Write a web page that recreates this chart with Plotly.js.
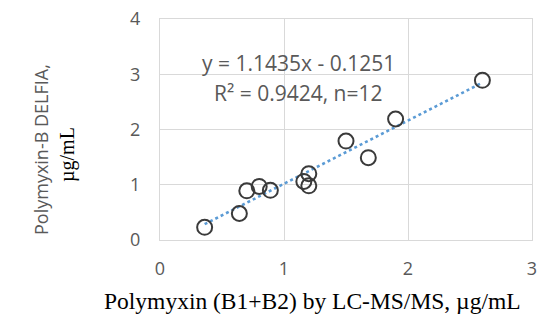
<!DOCTYPE html>
<html>
<head>
<meta charset="utf-8">
<script src="https://cdn.plot.ly/plotly-3.0.1.min.js"></script>
<style>html,body{margin:0;padding:0;background:#fff;}#chart{width:538px;height:320px;}</style>
</head>
<body>
<div id="chart"></div>
<script>
const lcmsValues = [0.36, 0.64, 0.70, 0.80, 0.89, 1.16, 1.20, 1.20, 1.50, 1.68, 1.90, 2.60];
const delfiaValues = [0.23, 0.48, 0.89, 0.97, 0.90, 1.06, 1.20, 0.98, 1.79, 1.49, 2.19, 2.89];
const trendSlope = 1.1435;
const trendIntercept = -0.1251;
const xTicks = [0, 1, 2, 3];
const yTicks = [0, 1, 2, 3, 4];
const eqLine1 = "y = 1.1435x - 0.1251";
const eqLine2 = "R² = 0.9424, n=12";
const xTitle = "Polymyxin (B1+B2) by LC-MS/MS, µg/mL";
const yTitle1 = "Polymyxin-B DELFIA,";
const yTitle2 = "µg/mL";

const xMin = Math.min(...lcmsValues), xMax = Math.max(...lcmsValues);
const trendX = [xMin, xMax];
const trendY = trendX.map(v => trendSlope * v + trendIntercept);

const sans = "Open Sans, Liberation Sans, sans-serif";
const serif = "Liberation Serif, Times New Roman, serif";

// plot area in pixels: left 160, right 532, top 19, bottom 240
const L = 160, R = 532, T = 19, B = 240;
const px = x => (x - L) / (R - L);
const py = y => (B - y) / (B - T);

const data = [
  {x: trendX, y: trendY, mode: 'lines', type: 'scatter',
   line: {color: '#5b9bd5', width: 2.6, dash: 'dot'}, hoverinfo: 'skip'},
  {x: lcmsValues, y: delfiaValues, mode: 'markers', type: 'scatter',
   marker: {symbol: 'circle-open', size: 15, color: '#3a3a3a', line: {color: '#3a3a3a', width: 2}}}
];

const layout = {
  width: 538, height: 320,
  margin: {l: L, r: 538 - R, t: T, b: 320 - B},
  showlegend: false,
  paper_bgcolor: '#fff', plot_bgcolor: '#fff',
  xaxis: {range: [0, 3], tickvals: xTicks, showgrid: true, gridcolor: '#d9d9d9', gridwidth: 1,
          zeroline: false, showline: true, linecolor: '#d9d9d9', mirror: true, linewidth: 1,
          ticks: '', tickfont: {family: sans, size: 18, color: '#595959'}, ticklabelstandoff: 12,
          automargin: false},
  yaxis: {range: [0, 4], tickvals: yTicks, showgrid: true, gridcolor: '#d9d9d9', gridwidth: 1,
          zeroline: false, showline: true, linecolor: '#d9d9d9', mirror: true, linewidth: 1,
          ticks: '', tickfont: {family: sans, size: 18, color: '#595959'}, ticklabelstandoff: 15,
          automargin: false},
  annotations: [
    {xref: 'paper', yref: 'paper', x: px(298), y: py(63), text: eqLine1, showarrow: false,
     font: {family: sans, size: 21, color: '#595959'}, xanchor: 'center', yanchor: 'middle'},
    {xref: 'paper', yref: 'paper', x: px(298), y: py(93), text: eqLine2, showarrow: false,
     font: {family: sans, size: 21, color: '#595959'}, xanchor: 'center', yanchor: 'middle'},
    {xref: 'paper', yref: 'paper', x: px(41), y: py(150), text: yTitle1, showarrow: false,
     textangle: -90, font: {family: sans, size: 18, color: '#595959'}, xanchor: 'center', yanchor: 'middle'},
    {xref: 'paper', yref: 'paper', x: px(67), y: py(155), text: yTitle2, showarrow: false,
     textangle: -90, font: {family: serif, size: 20, color: '#000'}, xanchor: 'center', yanchor: 'middle'},
    {xref: 'paper', yref: 'paper', x: px(312), y: py(301), text: xTitle, showarrow: false,
     font: {family: serif, size: 23.5, color: '#000'}, xanchor: 'center', yanchor: 'middle'}
  ]
};

Plotly.newPlot('chart', data, layout, {staticPlot: true, displayModeBar: false});
</script>
</body>
</html>
